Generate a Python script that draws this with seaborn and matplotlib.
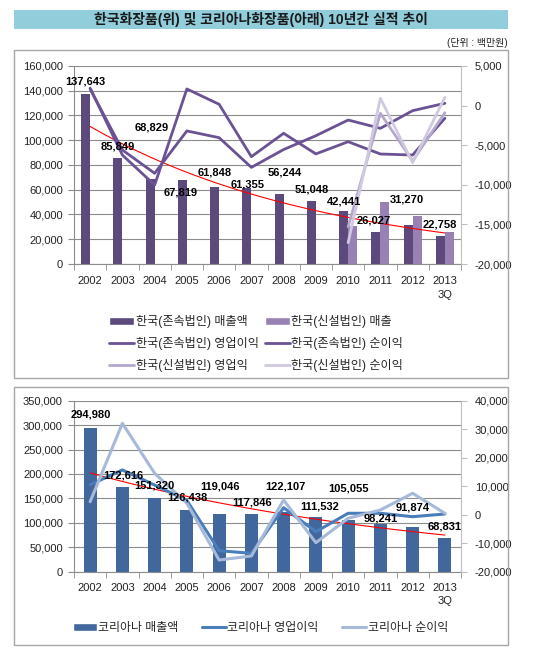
import numpy as np
import pandas as pd
import seaborn as sns
import matplotlib.pyplot as plt
from matplotlib.patches import Rectangle, Patch
from matplotlib.lines import Line2D
from matplotlib.ticker import FuncFormatter

sns.set_style('white')
plt.rcParams['font.family'] = ['Liberation Sans', 'Noto Sans CJK KR', 'DejaVu Sans']

# ---- data (백만원) ----
years = ['2002', '2003', '2004', '2005', '2006', '2007', '2008', '2009', '2010', '2011', '2012', '2013\n3Q']

# 한국화장품
kr_old_sales = [137643, 85849, 68829, 67819, 61848, 61355, 56244, 51048, 42441, 26027, 31270, 22758]
kr_new_sales = [None, None, None, None, None, None, None, None, 30900, 50300, 39000, 26100]
kr_old_op = [2100, -5600, -8550, -3200, -4050, -7800, -5550, -3800, -1820, -2870, -640, 290]
kr_old_net = [2200, -6240, -10030, 2100, 165, -6450, -3500, -6100, -4560, -6110, -6240, -1600]
kr_new_op = [None, None, None, None, None, None, None, None, -15300, -970, -7000, -900]
kr_new_net = [None, None, None, None, None, None, None, None, -17300, 920, -7200, 1050]

# 코리아나화장품
ka_sales = [294980, 172616, 151320, 126438, 119046, 117846, 122107, 111532, 105055, 98241, 91874, 68831]
ka_op = [10500, 15700, 10400, 5000, -12630, -13550, 2460, -5960, 490, 490, -700, 250]
ka_net = [4560, 32070, 14530, 4000, -15900, -14490, 5160, -9820, -1260, 1650, 7510, 490]

# value label offsets in pixels from the bar top (dx, dy)
top_lbl_dx = [-5, -5, -3, -6, -4, -4, 1, -4, -4, -7, -6, -5]
top_lbl_dy = [12, 11, 51, -12, 15, 4, 22, 11, 10, 11, 26, 11]
bot_lbl_dx = [1, 1, 0, 0, 1, 1, 2, 4, 0, 0, 0, 0]
bot_lbl_dy = [13, 12, 12, 12, 27, 12, 26, 11, 32, 5, 19, 12]

c_old_bar = '#5D4A7C'
c_new_bar = '#9782B3'
c_old_line = '#6A5294'
c_new_op = '#B4A8CC'
c_new_net = '#D0C9E0'
c_ka_bar = '#41679C'
c_ka_op = '#4A7EBB'
c_ka_net = '#A7B9D9'
grid_c = '#8C8C8C'
axis_c = '#8C8C8C'

W, H = 535, 658
fig = plt.figure(figsize=(W / 100, H / 100), dpi=100)


def fx(px):
    return px / W


def fy(py):
    return 1 - py / H


# title bar, unit, chart frames
fig.add_artist(Rectangle((fx(14), fy(29)), fx(494), 19 / H, facecolor='#92CDDC',
                         edgecolor='none', transform=fig.transFigure, zorder=0))
fig.text(fx(261), fy(19.5), '한국화장품(위) 및 코리아나화장품(아래) 10년간 실적 추이',
         ha='center', va='center', fontsize=10, fontweight='bold', color='#1a1a1a')
fig.text(fx(508), fy(43), '(단위 : 백만원)', ha='right', va='center', fontsize=7.2, color='#222222')
for top, bottom in [(50, 378), (387, 645)]:
    fig.add_artist(Rectangle((fx(14), fy(bottom)), fx(494), (bottom - top) / H, fill=False,
                             edgecolor='#A6A6A6', lw=1, transform=fig.transFigure))

comma = FuncFormatter(lambda v, p: f'{v:,.0f}')
idx = np.arange(len(years))


def style(ax, ax2, label_pad):
    ax.set_xlim(-0.5, len(years) - 0.5)
    ax.set_xlabel('')
    ax.set_ylabel('')
    ax2.set_ylabel('')
    ax.set_axisbelow(True)
    ax.yaxis.grid(True, color=grid_c, lw=0.8)
    ax.xaxis.grid(False)
    for s in ['top', 'right']:
        ax.spines[s].set_visible(False)
    for s in ['top', 'left', 'bottom']:
        ax2.spines[s].set_visible(False)
    ax.spines['left'].set_color(axis_c)
    ax.spines['bottom'].set_color(axis_c)
    ax2.spines['right'].set_color('#BFBFBF')
    ax.yaxis.set_major_formatter(comma)
    ax2.yaxis.set_major_formatter(comma)
    ax.set_xticks(idx)
    ax.set_xticklabels(years, linespacing=1.45)
    ax.set_xticks(np.arange(-0.5, len(years), 1), minor=True)
    ax.tick_params(axis='x', which='major', length=0, pad=label_pad, labelsize=8, labelcolor='#222222')
    ax.tick_params(axis='x', which='minor', length=4, color=axis_c, direction='out', bottom=True)
    ax.tick_params(axis='y', length=4, color=axis_c, direction='out', left=True, pad=4,
                   labelsize=8, labelcolor='#222222')
    ax2.tick_params(axis='y', length=4, color='#BFBFBF', direction='out', right=True, pad=6,
                    labelsize=8, labelcolor='#222222')


# ---- top chart: 한국화장품 ----
ax = fig.add_axes([fx(74), fy(264), fx(387), 198 / H])
top_df = pd.DataFrame({
    'year': years * 2,
    'series': ['old'] * len(years) + ['new'] * len(years),
    'value': kr_old_sales + kr_new_sales,
}).dropna()
sns.barplot(data=top_df, x='year', y='value', hue='series', order=years, hue_order=['old', 'new'],
            palette=[c_old_bar, c_new_bar], width=0.56, saturation=1, errorbar=None,
            legend=False, ax=ax, edgecolor='none')
ax.set_ylim(0, 160000)
ax.set_yticks(np.arange(0, 160001, 20000))

# exponential trendline of 존속법인 매출
coef = np.polyfit(idx, np.log(kr_old_sales), 1)
xs = np.linspace(0, len(years) - 1, 100)
sns.lineplot(x=xs, y=np.exp(np.polyval(coef, xs)), color='red', lw=0.8, ax=ax)

ax2 = ax.twinx()
lines_df = pd.DataFrame({'x': idx, 'old_op': kr_old_op, 'old_net': kr_old_net,
                         'new_op': kr_new_op, 'new_net': kr_new_net})
for col, c in [('old_op', c_old_line), ('old_net', c_old_line), ('new_op', c_new_op), ('new_net', c_new_net)]:
    d = lines_df[['x', col]].dropna()
    sns.lineplot(x=d['x'], y=d[col].astype(float), color=c, lw=2.0, ax=ax2, sort=False)
ax2.set_ylim(-20000, 5000)
ax2.set_yticks(np.arange(-20000, 5001, 5000))
style(ax, ax2, 9)

for i, v in enumerate(kr_old_sales):
    ax2.annotate(f'{v:,}', xy=(i, v), xycoords=ax.transData, xytext=(top_lbl_dx[i], top_lbl_dy[i]),
                 textcoords='offset pixels', ha='center', va='center', fontsize=8, fontweight='bold',
                 color='black')

top_handles = [
    Patch(facecolor=c_old_bar, label='한국(존속법인) 매출액'),
    Line2D([], [], color=c_old_line, lw=2.0, label='한국(존속법인) 영업이익'),
    Line2D([], [], color=c_new_op, lw=2.0, label='한국(신설법인) 영업익'),
    Patch(facecolor=c_new_bar, label='한국(신설법인) 매출'),
    Line2D([], [], color=c_old_line, lw=2.0, label='한국(존속법인) 순이익'),
    Line2D([], [], color=c_new_net, lw=2.0, label='한국(신설법인) 순이익'),
]
fig.legend(handles=top_handles, loc='upper left', bbox_to_anchor=(fx(109), fy(315)), ncol=2,
           frameon=False, fontsize=8.7, handlelength=2.1, handleheight=0.6, handletextpad=0.1,
           columnspacing=0.5, labelspacing=0.75, borderpad=0, borderaxespad=0)

# ---- bottom chart: 코리아나화장품 ----
bx = fig.add_axes([fx(74), fy(571.7), fx(387), 171 / H])
sns.barplot(x=years, y=ka_sales, order=years, color=c_ka_bar, width=0.4, saturation=1,
            errorbar=None, ax=bx, edgecolor='none')
bx.set_ylim(0, 350000)
bx.set_yticks(np.arange(0, 350001, 50000))

coef_b = np.polyfit(idx, np.log(ka_sales), 1)
sns.lineplot(x=xs, y=np.exp(np.polyval(coef_b, xs)), color='red', lw=0.8, ax=bx)

bx2 = bx.twinx()
sns.lineplot(x=idx, y=ka_op, color=c_ka_op, lw=2.2, ax=bx2, sort=False)
sns.lineplot(x=idx, y=ka_net, color=c_ka_net, lw=2.2, ax=bx2, sort=False)
bx2.set_ylim(-20000, 40000)
bx2.set_yticks(np.arange(-20000, 40001, 10000))
style(bx, bx2, 8)

for i, v in enumerate(ka_sales):
    bx2.annotate(f'{v:,}', xy=(i, v), xycoords=bx.transData, xytext=(bot_lbl_dx[i], bot_lbl_dy[i]),
                 textcoords='offset pixels', ha='center', va='center', fontsize=8, fontweight='bold',
                 color='black')

bot_handles = [
    Patch(facecolor=c_ka_bar, label='코리아나 매출액'),
    Line2D([], [], color=c_ka_op, lw=2.2, label='코리아나 영업이익'),
    Line2D([], [], color=c_ka_net, lw=2.2, label='코리아나 순이익'),
]
fig.legend(handles=bot_handles, loc='upper left', bbox_to_anchor=(fx(73), fy(622.5)), ncol=3,
           frameon=False, fontsize=8.6, handlelength=2.0, handleheight=0.65, handletextpad=0.1,
           columnspacing=2.0, borderpad=0, borderaxespad=0)

fig.savefig('out.png', dpi=100)
